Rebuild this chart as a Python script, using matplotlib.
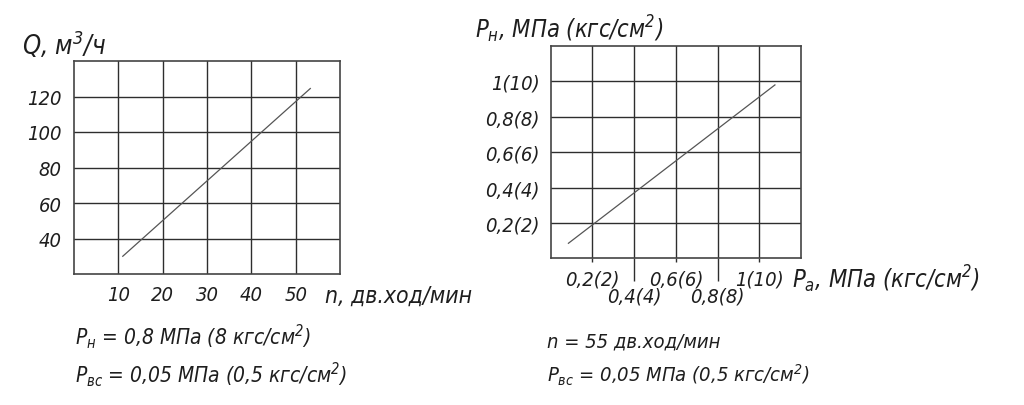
import matplotlib
matplotlib.use('Agg')
import matplotlib.pyplot as plt

# --- data ---
n_ticks = [10, 20, 30, 40, 50]
q_ticks = [40, 60, 80, 100, 120]
n_line = [11, 53.3]          # дв.ход/мин
q_line = [30, 124.5]         # м3/ч

pa_major = [0.2, 0.6, 1.0]
pa_major_labels = ['0,2(2)', '0,6(6)', '1(10)']
pa_minor = [0.4, 0.8]
pa_minor_labels = ['0,4(4)', '0,8(8)']
pn_ticks = [0.2, 0.4, 0.6, 0.8, 1.0]
pn_labels = ['0,2(2)', '0,4(4)', '0,6(6)', '0,8(8)', '1(10)']
pa_line = [0.085, 1.075]     # МПа
pn_line = [0.085, 0.98]      # МПа

# narrow oblique face, closest to the drafting font of the original
plt.rcParams['font.family'] = ['DejaVu Sans']
plt.rcParams['font.style'] = 'oblique'
plt.rcParams['font.stretch'] = 'condensed'
plt.rcParams['mathtext.fontset'] = 'custom'
for k in ['rm', 'it', 'sf', 'bf']:
    plt.rcParams['mathtext.' + k] = 'DejaVu Sans:slant=oblique:stretch=condensed'
plt.rcParams['mathtext.default'] = 'it'

W, H = 1024, 406
FS = 14.5
GRID = '#2e2e2e'
TXT = '#1e1e1e'

fig = plt.figure(figsize=(W / 100, H / 100), dpi=100)


def box(l, t, r, b):
    return [l / W, 1 - b / H, (r - l) / W, (b - t) / H]


def label(x, y, s, size=15):
    fig.text(x / W, 1 - y / H, s, fontsize=size, color=TXT, ha='left', va='baseline')


def style_axes(ax):
    for sp in ax.spines.values():
        sp.set_color('#444444')
        sp.set_linewidth(1.2)
    ax.grid(True, which='both', color=GRID, linewidth=1.0)
    ax.set_axisbelow(True)


# --- left chart: Q vs n ---
ax1 = fig.add_axes(box(74, 62, 340, 275))
ax1.plot(n_line, q_line, color='#555555', linewidth=0.9)
ax1.set_xlim(0, 60)
ax1.set_ylim(20, 140)
ax1.set_xticks(n_ticks)
ax1.set_xticklabels([str(v) for v in n_ticks])
ax1.set_yticks(q_ticks)
ax1.set_yticklabels([str(v) for v in q_ticks])
ax1.tick_params(length=0, labelsize=FS, labelcolor=TXT)
ax1.tick_params(axis='x', pad=8)
ax1.tick_params(axis='y', pad=9)
style_axes(ax1)

label(22, 55, 'Q, м$^3$/ч', 18.5)
label(325, 303, 'n, дв.ход/мин', 16.5)
label(75, 345, '$P_н$ = 0,8 МПа (8 кгс/см$^2$)')
label(75, 383, '$P_{вс}$ = 0,05 МПа (0,5 кгс/см$^2$)')

# --- right chart: Pн vs Pa ---
ax2 = fig.add_axes(box(550.7, 47, 801, 259.3))
ax2.plot(pa_line, pn_line, color='#555555', linewidth=0.9)
ax2.set_xlim(0, 1.2)
ax2.set_ylim(0, 1.2)
ax2.set_xticks(pa_major)
ax2.set_xticklabels(pa_major_labels)
ax2.set_xticks(pa_minor, minor=True)
ax2.set_xticklabels(pa_minor_labels, minor=True)
ax2.set_yticks(pn_ticks)
ax2.set_yticklabels(pn_labels)
ax2.tick_params(axis='y', length=0, pad=8, labelsize=FS, labelcolor=TXT)
ax2.tick_params(axis='x', which='major', direction='out', length=3, width=1.0,
                color=GRID, pad=5, labelsize=FS, labelcolor=TXT)
ax2.tick_params(axis='x', which='minor', direction='out', length=16.5, width=1.0,
                color=GRID, pad=4, labelsize=FS, labelcolor=TXT)
style_axes(ax2)

label(475, 38, '$P_н$, МПа (кгс/см$^2$)', 17)
label(792, 288, '$P_a$, МПа (кгс/см$^2$)', 17)
label(547, 348, 'n = 55 дв.ход/мин', 14.5)
label(547, 383, '$P_{вс}$ = 0,05 МПа (0,5 кгс/см$^2$)', 14.5)

fig.savefig('out.png', dpi=100)
